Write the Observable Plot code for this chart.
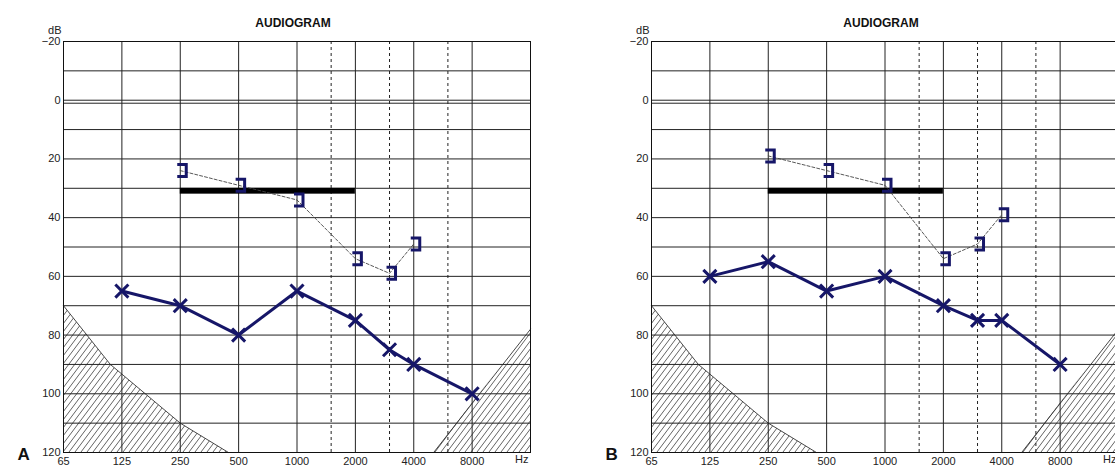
<!DOCTYPE html>
<html>
<head>
<meta charset="utf-8">
<script src="https://cdn.jsdelivr.net/npm/d3@7"></script>
<script src="https://cdn.jsdelivr.net/npm/@observablehq/plot@0.6"></script>
<style>
html, body { margin: 0; padding: 0; background: #fff; overflow: hidden; width: 1115px; height: 468px; }
#wrap { position: relative; width: 1115px; height: 468px; overflow: hidden; }
.panel { position: absolute; top: 0; width: 588px; height: 468px; }
.panel svg { max-width: none !important; }
</style>
</head>
<body>
<div id="wrap"></div>
<script>
// ---- data ----
const panelNames = ["A", "B"];
const chartTitle = "AUDIOGRAM";
const yLabel = "dB";
const xLabel = "Hz";

const airFreqs = [125, 250, 500, 1000, 2000, 3000, 4000, 8000];
const airA = [65, 70, 80, 65, 75, 85, 90, 100];
const airB = [60, 55, 65, 60, 70, 75, 75, 90];

const boneFreqs = [250, 500, 1000, 2000, 3000, 4000];
const boneA = [25, 30, 35, 55, 60, 50];
const boneB = [20, 25, 30, 55, 50, 40];

const barFreqs = [250, 2000];
const barLevels = [30, 32];

const lowHatchFreqs = [62.5, 109, 250, 443];
const lowHatchDb = [70, 90, 110, 120];
const highHatchFreqs = [5066, 16000];
const highHatchDb = [120, 78];

const xDomain = [62.5, 16000];
const yDomain = [-20, 120];
const xTicks = [62.5, 125, 250, 500, 1000, 2000, 4000, 8000];
const xTickLabels = ["65", "125", "250", "500", "1000", "2000", "4000", "8000"];
const xGrid = [125, 250, 500, 1000, 2000, 4000, 8000];
const xDashed = [1500, 3000, 6000];
const yTicks = [-20, 0, 20, 40, 60, 80, 100, 120];
const yGrid = [-10, 0, 10, 20, 30, 40, 50, 60, 70, 80, 90, 100, 110];
const doubleLine = [0];

// ---- drawing ----
const navy = "#161668";
const gridColor = "#222";
const font = "'Liberation Sans', Arial, sans-serif";

const bracketSymbol = {
  draw(ctx) {
    ctx.moveTo(-3, -6);
    ctx.lineTo(6, -6);
    ctx.lineTo(6, 6);
    ctx.lineTo(-3, 6);
  }
};

function drawPanel(name, air, bone) {
  const id = "hatch" + name;
  const airData = airFreqs.map((f, i) => ({f, db: air[i]}));
  const boneData = boneFreqs.map((f, i) => ({f, db: bone[i]}));
  const low = lowHatchFreqs.map((f, i) => ({f, db: lowHatchDb[i]}));
  const high = highHatchFreqs.map((f, i) => ({f, db: highHatchDb[i]}));
  const bar = [{x1: barFreqs[0], x2: barFreqs[1], y1: barLevels[0], y2: barLevels[1]}];

  const defsMark = () => {
    const defs = d3.create("svg:defs");
    const p = defs.append("pattern")
      .attr("id", id)
      .attr("patternUnits", "userSpaceOnUse")
      .attr("width", 6)
      .attr("height", 8);
    p.append("path")
      .attr("d", "M-6,8L0,0M0,8L6,0M6,8L12,0")
      .attr("stroke", "#3a3a3a")
      .attr("stroke-width", 0.8)
      .attr("fill", "none");
    return defs.node();
  };

  return Plot.plot({
    width: 588,
    height: 468,
    marginLeft: 63,
    marginRight: 58,
    marginTop: 41,
    marginBottom: 16,
    style: {fontFamily: font, fontSize: "11px", color: "#222", background: "#fff", overflow: "visible", maxWidth: "none"},
    x: {type: "log", base: 2, domain: xDomain},
    y: {domain: yDomain, reverse: true},
    marks: [
      defsMark,
      Plot.areaY(low, {x: "f", y1: "db", y2: yDomain[1], fill: `url(#${id})`}),
      Plot.areaY(high, {x: "f", y1: "db", y2: yDomain[1], fill: `url(#${id})`}),
      Plot.line(low, {x: "f", y: "db", stroke: "#333", strokeWidth: 0.9}),
      Plot.line(high, {x: "f", y: "db", stroke: "#333", strokeWidth: 0.9}),
      Plot.ruleY(yGrid, {stroke: gridColor, strokeWidth: 1}),
      Plot.ruleY(doubleLine, {stroke: gridColor, strokeWidth: 1, dy: 3}),
      Plot.ruleX(xGrid, {stroke: gridColor, strokeWidth: 1}),
      Plot.ruleX(xDashed, {stroke: gridColor, strokeWidth: 1, strokeDasharray: "3,3"}),
      Plot.frame({stroke: "#111", strokeWidth: 1}),
      Plot.rect(bar, {x1: "x1", x2: "x2", y1: "y1", y2: "y2", fill: "#000"}),
      Plot.line(boneData, {x: "f", y: "db", dy: -3, stroke: "#444", strokeWidth: 0.9, strokeDasharray: "3,2"}),
      Plot.dot(boneData, {x: "f", y: "db", dy: -3, symbol: bracketSymbol, r: 6, fill: "none", stroke: navy, strokeWidth: 3}),
      Plot.line(airData, {x: "f", y: "db", stroke: navy, strokeWidth: 3}),
      Plot.dot(airData, {x: "f", y: "db", symbol: "times", r: 6, stroke: navy, strokeWidth: 3}),
      Plot.axisX({ticks: xTicks, tickFormat: d => xTickLabels[xTicks.indexOf(d)], tickSize: 0, tickPadding: 5, label: null}),
      Plot.axisY({ticks: yTicks, tickSize: 0, tickPadding: 3, label: null}),
      Plot.text([yLabel], {text: d => d, frameAnchor: "top-left", textAnchor: "end", dx: -2, dy: -15}),
      Plot.text([xLabel], {text: d => d, frameAnchor: "bottom-right", textAnchor: "end", dx: -2, dy: 10}),
      Plot.text([chartTitle], {text: d => d, frameAnchor: "top", dx: -4, dy: -23, fontWeight: "bold", fontSize: 12, fill: "#111"}),
      Plot.text([name], {text: d => d, frameAnchor: "bottom-left", dx: -46, dy: 7, fontWeight: "bold", fontSize: 17, fill: "#111"})
    ]
  });
}

const wrap = document.getElementById("wrap");
[airA, airB].forEach((air, i) => {
  const div = document.createElement("div");
  div.className = "panel";
  div.style.left = (i * 588) + "px";
  div.appendChild(drawPanel(panelNames[i], air, [boneA, boneB][i]));
  wrap.appendChild(div);
});
</script>
</body>
</html>
